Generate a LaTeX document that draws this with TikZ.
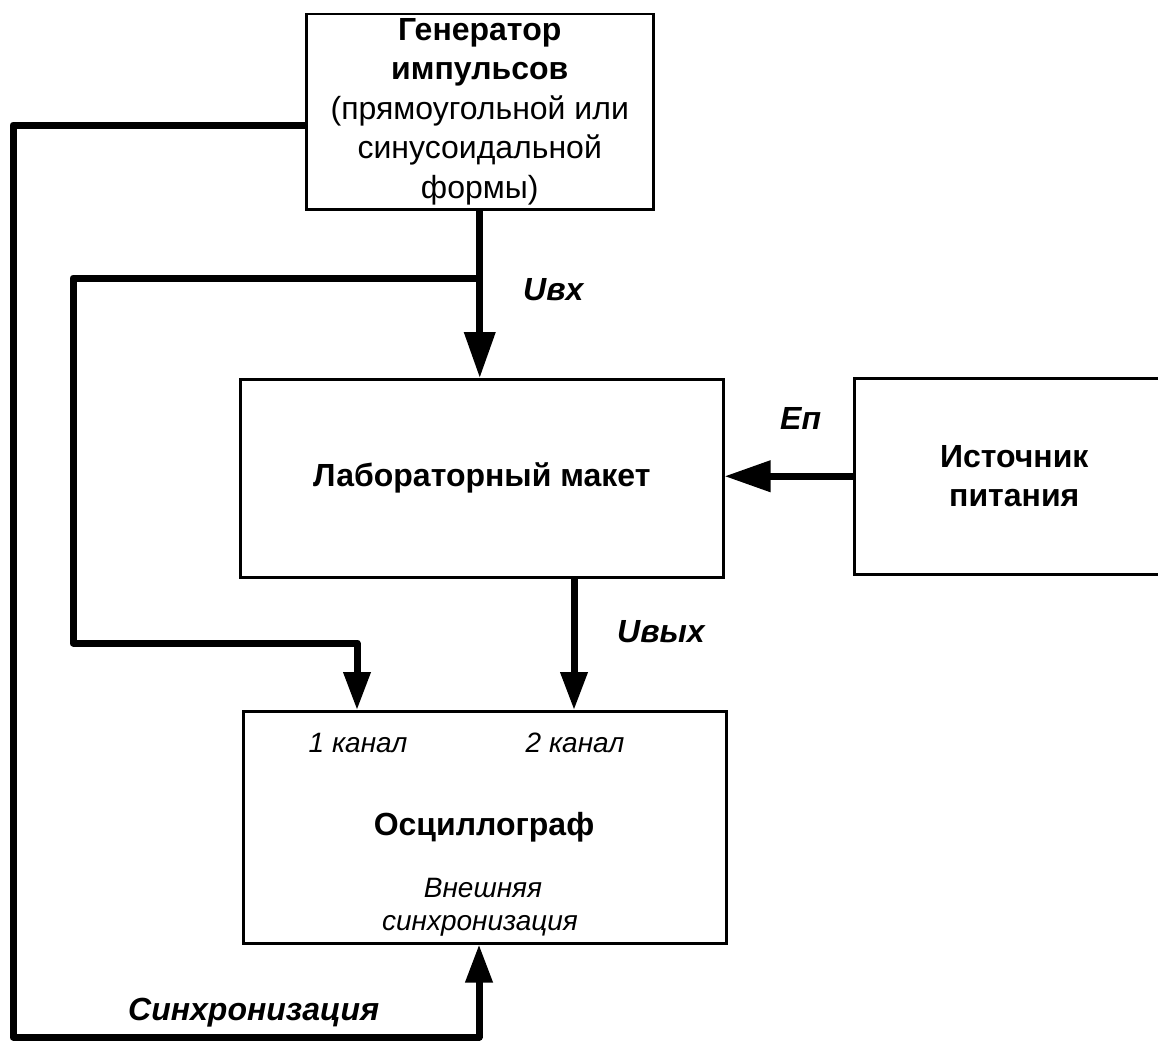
\documentclass[tikz,border=0pt]{standalone}
\usepackage{fontspec}
\setmainfont{Liberation Sans}
\usetikzlibrary{arrows.meta}
\begin{document}
\begin{tikzpicture}[x=1pt,y=-1pt,
  box/.style={draw,line width=2.5pt,inner sep=0pt,anchor=north west},
  conn/.style={line width=7pt,line join=round},
  bigtip/.style={-{Triangle[length=46pt,width=30pt]}},
  smalltip/.style={-{Triangle[length=38pt,width=26pt]}},
  boldtxt/.style={font=\fontsize{32}{39.5}\selectfont\bfseries},
  lbl/.style={font=\fontsize{32}{38}\selectfont\bfseries\itshape,anchor=base west,inner sep=0pt},
  smallit/.style={font=\fontsize{28}{33}\selectfont\itshape,anchor=base,inner sep=0pt}]
\fill[white] (0,0) rectangle (1158,1041);
\useasboundingbox (0,0) rectangle (1158,1041);
% boxes
\node[box,minimum width=347pt,minimum height=195pt,align=center,font=\fontsize{32}{39.5}\selectfont] (gen) at (305,13)
  {\textbf{Генератор}\\\textbf{импульсов}\\(прямоугольной или\\синусоидальной\\формы)};
\node[box,boldtxt,minimum width=483pt,minimum height=198pt] (lab) at (239,378) {Лабораторный макет};
\node[box,boldtxt,align=center,minimum width=320pt,minimum height=196pt] (src) at (853,377) {Источник\\питания};
\node[box,minimum width=483pt,minimum height=232pt] (osc) at (242,710) {};
% texts inside oscillograph
\node[smallit] (ch1) at (358,752) {1 канал};
\node[smallit] (ch2) at (575,752) {2 канал};
\node[boldtxt,anchor=base,inner sep=0pt] (osct) at (484,835) {Осциллограф};
\node[smallit] (ext1) at (483,897) {Внешняя};
\node[smallit] (ext2) at (480,930) {синхронизация};
% coordinates
\coordinate (a1) at (13,125);
\coordinate (a2) at (13,1037);
\coordinate (a3) at (479,1037);
\coordinate (b1) at (478.5,278);
\coordinate (b2) at (73,278);
\coordinate (b3) at (73,643);
\coordinate (b4) at (357,643);
\coordinate (c1) at (574,0);
% connectors
\draw[conn,smalltip] (gen.west |- a1) -- (a1) -- (a2) -- (a3) -- (a3 |- osc.south);
\draw[conn,bigtip] (gen.south) -- (gen.south |- lab.north);
\draw[conn,smalltip] (b1) -- (b2) -- (b3) -- (b4) -- (b4 |- osc.north);
\draw[conn,smalltip] (lab.south -| c1) -- (osc.north -| c1);
\draw[conn,bigtip] (src.west) -- (src.west -| lab.east);
% labels
\node[lbl] (uin) at (523,300) {Uвх};
\node[lbl] (uout) at (617,642) {Uвых};
\node[lbl] (ep) at (780,429) {Eп};
\node[lbl] (sync) at (128,1020) {Синхронизация};
\end{tikzpicture}
\end{document}
